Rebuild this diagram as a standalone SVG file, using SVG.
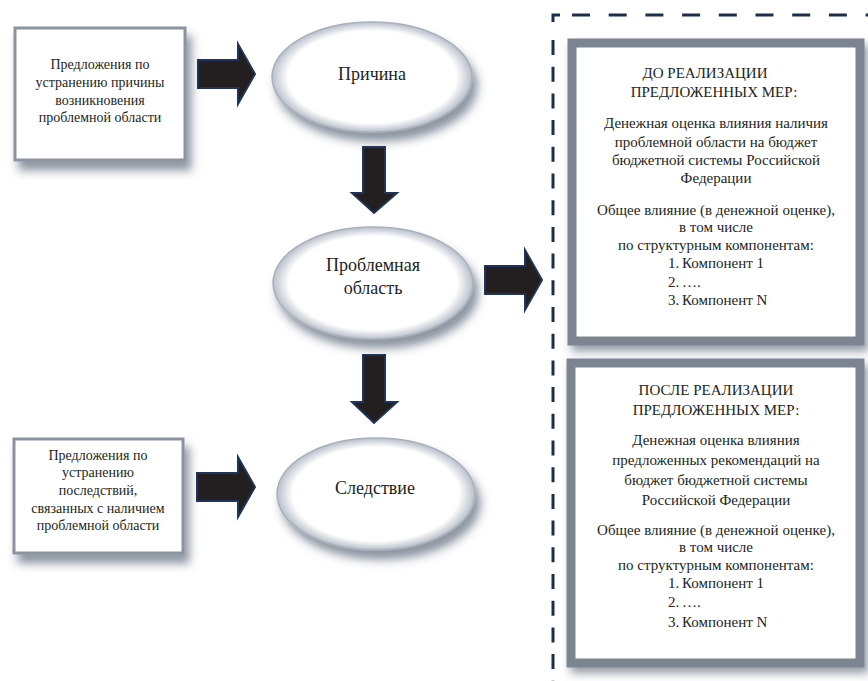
<svg xmlns="http://www.w3.org/2000/svg" width="868" height="681" viewBox="0 0 868 681" font-family="'Liberation Serif', 'DejaVu Serif', serif">
<style>
text{font-family:'Liberation Serif','DejaVu Serif',serif;fill:#231f20;text-anchor:middle}
.sm{font-size:14px}
.md{font-size:15px}
.lg{font-size:18px}
.lst{text-anchor:start}
.box{fill:#ffffff;stroke:#8a939f;stroke-width:3;filter:url(#sh)}
.bbox{fill:#ffffff;stroke:#7b8491;stroke-width:9;filter:url(#sh2)}
.ell{fill:url(#eg);stroke:#a9b0ba;stroke-width:1.5;filter:url(#sh)}
.arr{fill:#231f20;stroke:#1f3458;stroke-width:2;stroke-linejoin:miter}
.dash{stroke:#1f2d4a;stroke-width:3;fill:none}
</style>
<defs>
<filter id="sh" x="-20%" y="-20%" width="150%" height="160%">
<feDropShadow dx="5" dy="9" stdDeviation="5" flood-color="#2f3d52" flood-opacity="0.55"/>
</filter>
<filter id="sh2" x="-20%" y="-20%" width="150%" height="150%">
<feDropShadow dx="4" dy="6" stdDeviation="4" flood-color="#2f3d52" flood-opacity="0.5"/>
</filter>
<radialGradient id="eg" cx="0.5" cy="0.5" r="0.5">
<stop offset="0" stop-color="#ffffff"/>
<stop offset="0.84" stop-color="#ffffff"/>
<stop offset="1" stop-color="#b9c0ca"/>
</radialGradient>
</defs>

<g id="connectors">
<polygon class="arr" points="198,60 238,60 238,44 255,74 238,104 238,88 198,88"/>
<polygon class="arr" points="363,147 385,147 385,193 397,193 374,213 352,193 363,193"/>
<polygon class="arr" points="485,266 525,266 525,250 542,280 525,310 525,294 485,294"/>
<polygon class="arr" points="363,355 385,355 385,402 397,402 374,423 352,402 363,402"/>
<polygon class="arr" points="197,473 238,473 238,457 255,487 238,517 238,501 197,501"/>
</g>

<g id="dashed-frame">
<path class="dash" d="M553,22 V15 H560"/>
<line class="dash" x1="553" y1="40" x2="553" y2="681" stroke-dasharray="15 11.7"/>
<line class="dash" x1="572" y1="15" x2="868" y2="15" stroke-dasharray="18 18.7"/>
</g>

<g id="node-proposals-cause">
<rect class="box" x="15" y="28" width="170" height="132"/>
<text class="sm" x="100" y="69">Предложения по</text>
<text class="sm" x="100" y="87">устранению причины</text>
<text class="sm" x="100" y="105">возникновения</text>
<text class="sm" x="100" y="122">проблемной области</text>
</g>

<g id="node-cause">
<ellipse class="ell" cx="372" cy="77" rx="100" ry="55"/>
<text class="lg" x="372" y="80">Причина</text>
</g>

<g id="node-problem">
<ellipse class="ell" cx="373" cy="283" rx="100" ry="56"/>
<text class="lg" x="373" y="271">Проблемная</text>
<text class="lg" x="373" y="294">область</text>
</g>

<g id="node-effect">
<ellipse class="ell" cx="376" cy="494" rx="99" ry="56"/>
<text class="lg" x="375" y="494">Следствие</text>
</g>

<g id="node-proposals-effect">
<rect class="box" x="14" y="439" width="169" height="114"/>
<text class="sm" x="98" y="460">Предложения по</text>
<text class="sm" x="98" y="477">устранению</text>
<text class="sm" x="98" y="495">последствий,</text>
<text class="sm" x="98" y="513">связанных с наличием</text>
<text class="sm" x="98" y="530">проблемной области</text>
</g>

<g id="node-before">
<rect class="bbox" x="572" y="43" width="288" height="298"/>
<text class="md" x="705" y="78">ДО РЕАЛИЗАЦИИ</text>
<text class="md" x="714" y="97">ПРЕДЛОЖЕННЫХ МЕР:</text>
<text class="md" x="716" y="128">Денежная оценка влияния наличия</text>
<text class="md" x="716" y="147">проблемной области на бюджет</text>
<text class="md" x="716" y="165">бюджетной системы Российской</text>
<text class="md" x="716" y="183">Федерации</text>
<text class="md" x="716" y="215">Общее влияние (в денежной оценке),</text>
<text class="md" x="716" y="232">в том числе</text>
<text class="md" x="716" y="250">по структурным компонентам:</text>
<text class="md lst" x="668" y="268">1.</text><text class="md lst" x="682" y="268">Компонент 1</text>
<text class="md lst" x="668" y="287">2.</text><text class="md lst" x="682" y="287">….</text>
<text class="md lst" x="668" y="305">3.</text><text class="md lst" x="682" y="305">Компонент N</text>
</g>

<g id="node-after">
<rect class="bbox" x="571" y="363" width="289" height="300"/>
<text class="md" x="716" y="395">ПОСЛЕ РЕАЛИЗАЦИИ</text>
<text class="md" x="716" y="415">ПРЕДЛОЖЕННЫХ МЕР:</text>
<text class="md" x="716" y="445">Денежная оценка влияния</text>
<text class="md" x="716" y="465">предложенных рекомендаций на</text>
<text class="md" x="716" y="485">бюджет бюджетной системы</text>
<text class="md" x="716" y="505">Российской Федерации</text>
<text class="md" x="716" y="535">Общее влияние (в денежной оценке),</text>
<text class="md" x="716" y="552">в том числе</text>
<text class="md" x="716" y="570">по структурным компонентам:</text>
<text class="md lst" x="668" y="588">1.</text><text class="md lst" x="682" y="588">Компонент 1</text>
<text class="md lst" x="668" y="607">2.</text><text class="md lst" x="682" y="607">….</text>
<text class="md lst" x="668" y="627">3.</text><text class="md lst" x="682" y="627">Компонент N</text>
</g>
</svg>
